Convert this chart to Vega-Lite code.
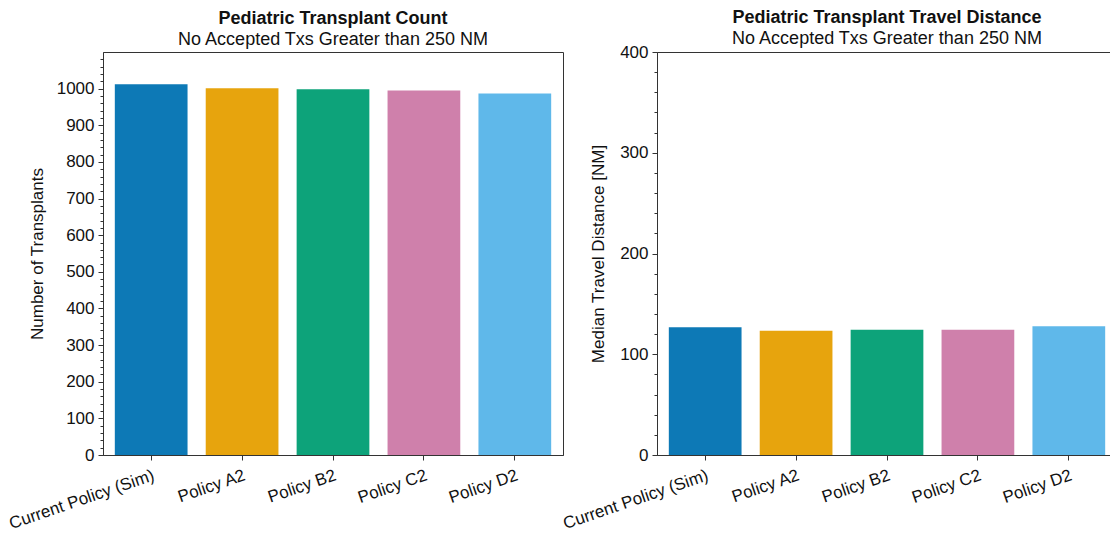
{
  "$schema": "https://vega.github.io/schema/vega-lite/v6.json",
  "background": "white",
  "padding": {"left": 6, "top": 8, "right": 0, "bottom": 5},
  "bounds": "flush",
  "spacing": 94,
  "datasets": {
    "tx": [
      {"policy": "Current Policy (Sim)", "count": 1012, "distance": 126.7},
      {"policy": "Policy A2", "count": 1001, "distance": 123.3},
      {"policy": "Policy B2", "count": 998, "distance": 124.3},
      {"policy": "Policy C2", "count": 995, "distance": 124.3},
      {"policy": "Policy D2", "count": 987, "distance": 127.7}
    ]
  },
  "config": {
    "font": "Liberation Sans",
    "view": {"stroke": "#333333", "strokeWidth": 1},
    "axis": {
      "domainColor": "#333333",
      "tickColor": "#333333",
      "labelColor": "#111111",
      "titleColor": "#111111",
      "labelFontSize": 17,
      "titleFontSize": 17,
      "titleFontWeight": "normal",
      "grid": false
    },
    "title": {
      "fontSize": 18,
      "fontWeight": "bold",
      "subtitleFontSize": 18,
      "subtitleColor": "#111111",
      "color": "#111111",
      "anchor": "middle",
      "subtitlePadding": 3
    }
  },
  "hconcat": [
    {
      "width": 460,
      "height": 403,
      "title": {"text": "Pediatric Transplant Count", "subtitle": "No Accepted Txs Greater than 250 NM", "offset": 3},
      "data": {"name": "tx"},
      "resolve": {"axis": {"y": "independent"}},
      "encoding": {
        "x": {
          "field": "policy",
          "type": "nominal",
          "sort": null,
          "scale": {"paddingInner": 0.2, "paddingOuter": 0.13},
          "axis": {"title": null, "labelAngle": -19, "labelAlign": "right", "labelBaseline": "top", "tickSize": 5, "labelPadding": 7}
        }
      },
      "layer": [
        {
          "mark": {"type": "bar", "opacity": 0.95},
          "encoding": {
            "y": {
              "field": "count",
              "type": "quantitative",
              "scale": {"domain": [0, 1100], "nice": false},
              "axis": {"title": "Number of Transplants", "format": "d", "values": [0,100,200,300,400,500,600,700,800,900,1000], "tickSize": 5, "labelPadding": 4, "titlePadding": 10}
            },
            "color": {
              "field": "policy",
              "type": "nominal",
              "sort": null,
              "scale": {"range": ["#0072B2", "#E69F00", "#009E73", "#CC79A7", "#56B4E9"]},
              "legend": null
            }
          }
        },
        {
          "mark": {"type": "bar", "opacity": 0},
          "encoding": {
            "y": {
              "field": "count",
              "type": "quantitative",
              "axis": {"orient": "left", "title": null, "labels": false, "domain": false, "tickSize": 3,
                "values": [20,40,60,80,120,140,160,180,220,240,260,280,320,340,360,380,420,440,460,480,520,540,560,580,620,640,660,680,720,740,760,780,820,840,860,880,920,940,960,980,1020,1040,1060,1080]}
            }
          }
        }
      ]
    },
    {
      "width": 460,
      "height": 403,
      "title": {"text": "Pediatric Transplant Travel Distance", "subtitle": "No Accepted Txs Greater than 250 NM", "offset": -5},
      "data": {"name": "tx"},
      "resolve": {"axis": {"y": "independent"}},
      "encoding": {
        "x": {
          "field": "policy",
          "type": "nominal",
          "sort": null,
          "scale": {"paddingInner": 0.2, "paddingOuter": 0.13},
          "axis": {"title": null, "labelAngle": -19, "labelAlign": "right", "labelBaseline": "top", "tickSize": 5, "labelPadding": 7}
        }
      },
      "layer": [
        {
          "mark": {"type": "bar", "opacity": 0.95},
          "encoding": {
            "y": {
              "field": "distance",
              "type": "quantitative",
              "scale": {"domain": [0, 400], "nice": false},
              "axis": {"title": "Median Travel Distance [NM]", "format": "d", "values": [0,100,200,300,400], "tickSize": 5, "labelPadding": 4, "titlePadding": 12}
            },
            "color": {
              "field": "policy",
              "type": "nominal",
              "sort": null,
              "scale": {"range": ["#0072B2", "#E69F00", "#009E73", "#CC79A7", "#56B4E9"]},
              "legend": null
            }
          }
        },
        {
          "mark": {"type": "bar", "opacity": 0},
          "encoding": {
            "y": {
              "field": "distance",
              "type": "quantitative",
              "axis": {"orient": "left", "title": null, "labels": false, "domain": false, "tickSize": 3,
                "values": [20,40,60,80,120,140,160,180,220,240,260,280,320,340,360,380]}
            }
          }
        }
      ]
    }
  ]
}
